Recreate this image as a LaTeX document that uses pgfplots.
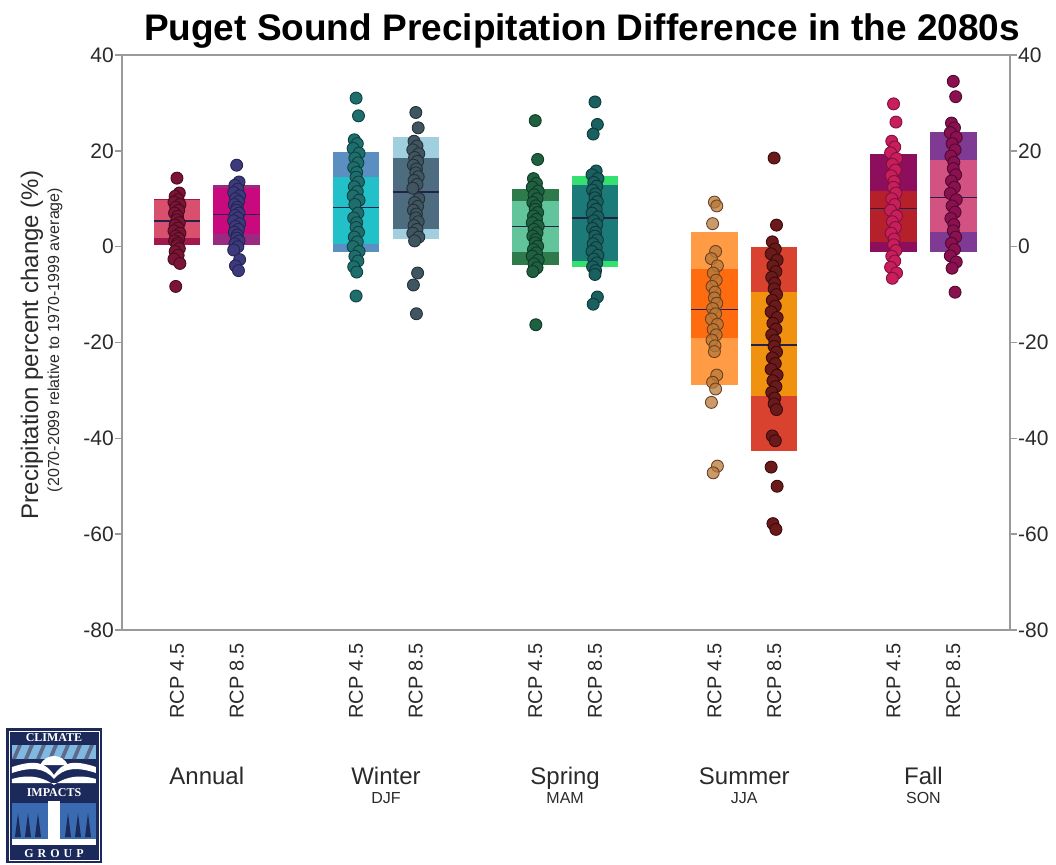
\documentclass[border=0pt]{standalone}
\usepackage{pgfplots}
\pgfplotsset{compat=1.18}
\usepackage{fontspec}
\setmainfont{Liberation Sans}
\newfontfamily\logofont{Liberation Serif}

% band colours: o = outer band, i = inner band
\definecolor{an4o}{HTML}{A0184C}
\definecolor{an4i}{HTML}{D9506E}
\definecolor{an8o}{HTML}{9A2A80}
\definecolor{an8i}{HTML}{C80A7E}
\definecolor{wi4o}{HTML}{5B8FC2}
\definecolor{wi4i}{HTML}{22C0C8}
\definecolor{wi8o}{HTML}{A0CFDF}
\definecolor{wi8i}{HTML}{4E6C80}
\definecolor{sp4o}{HTML}{2F7A4A}
\definecolor{sp4i}{HTML}{62C49A}
\definecolor{sp8o}{HTML}{34E070}
\definecolor{sp8i}{HTML}{1C7A78}
\definecolor{su4o}{HTML}{FF9A45}
\definecolor{su4i}{HTML}{FF6C10}
\definecolor{su8o}{HTML}{D9422E}
\definecolor{su8i}{HTML}{F0920F}
\definecolor{fa4o}{HTML}{8C0E5C}
\definecolor{fa4i}{HTML}{B5202A}
\definecolor{fa8o}{HTML}{7F3A94}
\definecolor{fa8i}{HTML}{D25382}
% point fill / point edge
\definecolor{an4f}{HTML}{7A1535}\definecolor{an4e}{HTML}{4A0A20}
\definecolor{an8f}{HTML}{3C3A7C}\definecolor{an8e}{HTML}{252350}
\definecolor{wi4f}{HTML}{1F6E6E}\definecolor{wi4e}{HTML}{0F4040}
\definecolor{wi8f}{HTML}{3F5560}\definecolor{wi8e}{HTML}{253038}
\definecolor{sp4f}{HTML}{1E6040}\definecolor{sp4e}{HTML}{0F3A25}
\definecolor{sp8f}{HTML}{1A6060}\definecolor{sp8e}{HTML}{0E3838}
\definecolor{su4f}{HTML}{B87838}\definecolor{su4e}{HTML}{6A4020}
\definecolor{su8f}{HTML}{6A1A1A}\definecolor{su8e}{HTML}{3A0A0A}
\definecolor{fa4f}{HTML}{C81E5A}\definecolor{fa4e}{HTML}{801040}
\definecolor{fa8f}{HTML}{8A1050}\definecolor{fa8e}{HTML}{500830}
\definecolor{medc}{HTML}{22224A}
\definecolor{axgray}{HTML}{9A9A9A}
\definecolor{txt}{HTML}{2A2A2A}
\definecolor{navy}{HTML}{1B2A5A}
\definecolor{logoblue}{HTML}{3A6AB0}
\definecolor{logosky}{HTML}{7FB8E0}

% \band{left}{right}{bottom}{top}{colour}
\newcommand{\band}[5]{\addplot[draw=none, fill=#5] coordinates {(#1,#3) (#2,#3) (#2,#4) (#1,#4)} -- cycle;}
% \med{left}{right}{median}
\newcommand{\med}[3]{\addplot[draw=medc, line width=1.6pt] coordinates {(#1,#3) (#2,#3)};}

\pgfplotsset{
  dots/.style={only marks, mark=*, mark size=6pt,
    mark options={fill=#1f, draw=#1e, line width=0.9pt}},
  paledots/.style={only marks, mark=*, mark size=6pt,
    mark options={fill=#1f, draw=#1e, line width=0.9pt, fill opacity=0.75}},
}

\begin{document}
\begin{tikzpicture}
\begin{axis}[
    scale only axis, width=888pt, height=575pt,
    xmin=0.08, xmax=14.95, ymin=-80, ymax=40,
    clip=false,
    axis line style={draw=axgray, line width=1.5pt},
    ytick={-80,-60,...,40}, ytick pos=both,
    tick align=outside, major tick length=7pt,
    ytick style={draw=axgray, line width=1.5pt},
    xtick={1,2,4,5,7,8,10,11,13,14},
    xticklabels={RCP 4.5,RCP 8.5,RCP 4.5,RCP 8.5,RCP 4.5,RCP 8.5,RCP 4.5,RCP 8.5,RCP 4.5,RCP 8.5},
    xtick style={draw=none},
    x tick label style={rotate=90, anchor=east, inner sep=0pt, xshift=-6pt,
      font=\fontsize{20}{20}\selectfont, text=txt},
    y tick label style={font=\fontsize{21}{21}\selectfont, text=txt, inner sep=1pt},
    /pgf/number format/assume math mode=true,
  ]
  % Annual
  \band{0.61}{1.39}{0.4}{10.0}{an4o}
  \band{0.61}{1.39}{1.8}{9.8}{an4i}
  \med{0.61}{1.39}{5.3}
  \band{1.61}{2.39}{0.4}{12.8}{an8o}
  \band{1.61}{2.39}{2.7}{12.3}{an8i}
  \med{1.61}{2.39}{6.7}
  % Winter
  \band{3.61}{4.39}{-1.2}{19.7}{wi4o}
  \band{3.61}{4.39}{0.6}{14.5}{wi4i}
  \med{3.61}{4.39}{8.2}
  \band{4.61}{5.39}{1.6}{22.8}{wi8o}
  \band{4.61}{5.39}{3.7}{18.6}{wi8i}
  \med{4.61}{5.39}{11.4}
  % Spring
  \band{6.61}{7.39}{-3.8}{12.1}{sp4o}
  \band{6.61}{7.39}{-1.2}{9.6}{sp4i}
  \med{6.61}{7.39}{4.2}
  \band{7.61}{8.39}{-4.3}{14.7}{sp8o}
  \band{7.61}{8.39}{-2.9}{12.8}{sp8i}
  \med{7.61}{8.39}{6.0}
  % Summer
  \band{9.61}{10.39}{-28.9}{3.0}{su4o}
  \band{9.61}{10.39}{-19.0}{-4.7}{su4i}
  \med{9.61}{10.39}{-13.1}
  \band{10.61}{11.39}{-42.6}{-0.1}{su8o}
  \band{10.61}{11.39}{-31.2}{-9.4}{su8i}
  \med{10.61}{11.39}{-20.5}
  % Fall
  \band{12.61}{13.39}{-1.2}{19.4}{fa4o}
  \band{12.61}{13.39}{0.9}{11.7}{fa4i}
  \med{12.61}{13.39}{8.0}
  \band{13.61}{14.39}{-1.2}{23.9}{fa8o}
  \band{13.61}{14.39}{3.0}{18.0}{fa8i}
  \med{13.61}{14.39}{10.3}

  % model values
  \addplot[dots=an4] table {
x y
1.00 14.3
1.04 11.2
0.97 10.5
1.02 9.8
0.95 9.3
1.05 8.8
0.98 8.2
1.03 7.6
0.96 7.0
1.01 6.3
1.00 5.6
1.04 5.0
0.97 4.5
1.02 3.9
0.95 3.3
1.05 2.8
0.98 2.2
1.03 1.7
0.96 1.2
1.01 0.7
1.00 0.2
1.04 -0.4
0.97 -1.0
1.02 -1.8
0.95 -2.6
1.05 -3.5
0.98 -8.3
};
  \addplot[dots=an8] table {
x y
2.00 17.0
2.04 13.5
1.97 12.8
2.02 12.0
1.95 11.3
2.05 10.6
1.98 10.0
2.03 9.4
1.96 8.8
2.01 8.2
2.00 7.6
2.04 7.0
1.97 6.5
2.02 6.0
1.95 5.4
2.05 4.8
1.98 4.2
2.03 3.6
1.96 3.0
2.01 2.4
2.00 1.8
2.04 1.2
1.97 0.6
2.02 0.0
1.95 -0.7
2.05 -2.7
1.98 -4.0
2.03 -5.0
};
  \addplot[dots=wi4] table {
x y
4.00 31.0
4.04 27.3
3.97 22.3
4.02 21.5
3.95 20.5
4.05 19.5
3.98 18.5
4.03 17.5
3.96 16.5
4.01 15.5
4.00 14.5
4.04 13.5
3.97 12.5
4.02 11.5
3.95 10.6
4.05 9.7
3.98 8.8
4.03 7.0
3.96 6.0
4.01 5.0
4.00 4.0
4.04 3.0
3.97 2.0
4.02 1.0
3.95 0.0
4.05 -1.0
3.98 -2.0
4.03 -3.0
3.96 -4.2
4.01 -5.3
4.00 -10.3
};
  \addplot[dots=wi8] table {
x y
5.00 28.0
5.04 24.8
4.97 22.0
5.02 21.0
4.95 20.2
5.05 19.4
4.98 18.6
5.03 17.8
4.96 17.0
5.01 16.2
5.00 15.4
5.04 14.6
4.97 13.8
5.02 13.0
4.95 12.2
5.05 10.0
4.98 9.2
5.03 8.4
4.96 7.6
5.01 6.8
5.00 6.0
5.04 5.2
4.97 4.4
5.02 3.6
4.95 2.8
5.05 2.0
4.98 1.2
5.03 -5.5
4.96 -8.0
5.01 -14.0
};
  \addplot[dots=sp4] table {
x y
7.00 26.3
7.04 18.2
6.97 14.2
7.02 13.2
6.95 12.4
7.05 11.6
6.98 10.8
7.03 10.0
6.96 9.2
7.01 8.5
7.00 7.8
7.04 7.1
6.97 6.4
7.02 5.7
6.95 5.0
7.05 4.3
6.98 3.6
7.03 2.9
6.96 2.2
7.01 1.5
7.00 0.8
7.04 0.1
6.97 -0.6
7.02 -1.3
6.95 -2.0
7.05 -2.8
6.98 -3.6
7.03 -4.4
6.96 -5.2
7.01 -16.3
};
  \addplot[dots=sp8] table {
x y
8.00 30.2
8.04 25.5
7.97 23.5
8.02 15.8
7.95 15.0
8.05 14.2
7.98 13.4
8.03 12.6
7.96 11.8
8.01 11.0
8.00 10.2
8.04 9.4
7.97 8.6
8.02 7.8
7.95 7.0
8.05 6.2
7.98 5.4
8.03 4.6
7.96 3.8
8.01 3.0
8.00 2.2
8.04 1.4
7.97 0.6
8.02 -0.2
7.95 -1.0
8.05 -1.8
7.98 -2.6
8.03 -3.4
7.96 -4.2
8.01 -5.0
8.00 -5.8
8.04 -10.5
7.97 -12.0
};
  \addplot[paledots=su4] table {
x y
10.00 9.3
10.04 8.5
9.97 4.8
10.02 -1.0
9.95 -2.5
10.05 -4.0
9.98 -5.5
10.03 -7.0
9.96 -8.3
10.01 -9.5
10.00 -10.7
10.04 -11.8
9.97 -12.9
10.02 -14.0
9.95 -15.1
10.05 -16.2
9.98 -17.3
10.03 -18.4
9.96 -19.5
10.01 -20.7
10.00 -21.9
10.04 -26.8
9.97 -28.3
10.02 -29.7
9.95 -32.5
10.05 -45.8
9.98 -47.2
};
  \addplot[dots=su8] table {
x y
11.00 18.5
11.04 4.5
10.97 1.0
11.02 -0.5
10.95 -1.5
11.05 -2.8
10.98 -4.0
11.03 -5.2
10.96 -6.4
11.01 -7.6
11.00 -8.8
11.04 -10.0
10.97 -11.2
11.02 -12.4
10.95 -13.6
11.05 -14.8
10.98 -16.0
11.03 -17.2
10.96 -18.4
11.01 -19.6
11.00 -20.8
11.04 -22.0
10.97 -23.2
11.02 -24.4
10.95 -25.6
11.05 -26.8
10.98 -28.0
11.03 -29.2
10.96 -30.4
11.01 -31.6
11.00 -32.8
11.04 -34.0
10.97 -39.5
11.02 -40.5
10.95 -46.0
11.05 -50.0
10.98 -57.8
11.03 -59.0
};
  \addplot[dots=fa4] table {
x y
13.00 29.8
13.04 26.0
12.97 22.0
13.02 20.8
12.95 19.6
13.05 18.4
12.98 17.2
13.03 16.0
12.96 14.8
13.01 13.6
13.00 12.4
13.04 11.2
12.97 10.0
13.02 8.8
12.95 7.6
13.05 6.4
12.98 5.2
13.03 4.0
12.96 2.8
13.01 1.6
13.00 0.4
13.04 -0.8
12.97 -2.0
13.02 -3.0
12.95 -4.3
13.05 -5.5
12.98 -6.6
};
  \addplot[dots=fa8] table {
x y
14.00 34.5
14.04 31.3
13.97 25.8
14.02 24.8
13.95 23.8
14.05 22.8
13.98 21.5
14.03 20.2
13.96 18.9
14.01 17.6
14.00 16.3
14.04 15.0
13.97 13.7
14.02 12.4
13.95 11.1
14.05 9.8
13.98 8.5
14.03 7.2
13.96 5.9
14.01 4.6
14.00 3.3
14.04 2.0
13.97 0.7
14.02 -0.6
13.95 -1.9
14.05 -3.2
13.98 -4.5
14.03 -9.5
};

  % season names under the tick labels
  \begin{scope}[font=\fontsize{24}{24}\selectfont, text=txt]
    \node[anchor=base, yshift=-154pt] at (axis cs:1.5,-80) {Annual};
    \node[anchor=base, yshift=-154pt] at (axis cs:4.5,-80) {Winter};
    \node[anchor=base, yshift=-154pt] at (axis cs:7.5,-80) {Spring};
    \node[anchor=base, yshift=-154pt] at (axis cs:10.5,-80) {Summer};
    \node[anchor=base, yshift=-154pt] at (axis cs:13.5,-80) {Fall};
  \end{scope}
  \begin{scope}[font=\fontsize{16}{16}\selectfont, text=txt]
    \node[anchor=base, yshift=-173pt] at (axis cs:4.5,-80) {DJF};
    \node[anchor=base, yshift=-173pt] at (axis cs:7.5,-80) {MAM};
    \node[anchor=base, yshift=-173pt] at (axis cs:10.5,-80) {JJA};
    \node[anchor=base, yshift=-173pt] at (axis cs:13.5,-80) {SON};
  \end{scope}
\end{axis}

% right-hand tick labels
\begin{axis}[
    scale only axis, width=888pt, height=575pt,
    xmin=0.08, xmax=14.95, ymin=-80, ymax=40,
    hide x axis, axis y line*=right,
    y axis line style={draw=none},
    ytick={-80,-60,...,40}, major tick length=7pt, tick align=outside,
    ytick style={draw=none},
    y tick label style={font=\fontsize{21}{21}\selectfont, text=txt, inner sep=1pt},
    /pgf/number format/assume math mode=true,
  ]
\end{axis}

% title and y label
\node[anchor=base, font=\fontsize{37}{40}\selectfont\bfseries, text=black]
  at (460pt,589pt) {Puget Sound Precipitation Difference in the 2080s};
\node[rotate=90, font=\fontsize{24}{24}\selectfont, text=txt]
  at (-90pt,285pt) {Precipitation percent change (\%)};
\node[rotate=90, font=\fontsize{16}{16}\selectfont, text=txt]
  at (-67pt,290pt) {(2070-2099 relative to 1970-1999 average)};

% Climate Impacts Group logo
\begin{scope}[shift={(-116pt,-233pt)}, x=1pt, y=1pt]
  \fill[navy] (0,0) rectangle (96,135);
  \draw[white, line width=0.8pt] (3,3) rectangle (93,132);
  \begin{scope}
    \clip (6,104) rectangle (90,118);
    \fill[logosky] (6,104) rectangle (90,118);
    \foreach \s in {0,12,...,84} {
      \fill[navy!70] (6+\s,104) -- (10+\s,104) -- (16+\s,118) -- (12+\s,118) -- cycle;
    }
  \end{scope}
  \fill[white] (34,98) .. controls (40,110) and (56,110) .. (62,98) -- cycle;
  \fill[white] (6,96) .. controls (30,104) and (40,100) .. (48,88) -- (48,84) .. controls (38,96) and (24,96) .. (6,90) -- cycle;
  \fill[white] (90,96) .. controls (66,104) and (56,100) .. (48,88) -- (48,84) .. controls (58,96) and (72,96) .. (90,90) -- cycle;
  \fill[white] (6,84) .. controls (26,90) and (40,84) .. (48,78) .. controls (56,84) and (70,90) .. (90,84) -- (90,80) -- (6,80) -- cycle;
  \fill[logoblue] (6,20) rectangle (44,60);
  \fill[logoblue] (52,20) rectangle (90,60);
  \fill[white] (42,20) rectangle (54,62);
  \fill[white] (6,18) rectangle (90,24);
  \foreach \t in {12,22,32,62,72,82} {
    \fill[navy] (\t-3,26) -- (\t,50) -- (\t+3,26) -- cycle;
  }
  \node[white, font=\logofont\bfseries\fontsize{12}{12}\selectfont] at (48,125) {CLIMATE};
  \node[white, font=\logofont\bfseries\fontsize{12}{12}\selectfont] at (48,70) {IMPACTS};
  \node[white, font=\logofont\bfseries\fontsize{12}{12}\selectfont] at (48,9) {G\,\,R\,\,O\,\,U\,\,P};
\end{scope}

\pgfresetboundingbox
\path[use as bounding box] (-122pt,-234pt) rectangle (934pt,630pt);
\end{tikzpicture}
\end{document}
